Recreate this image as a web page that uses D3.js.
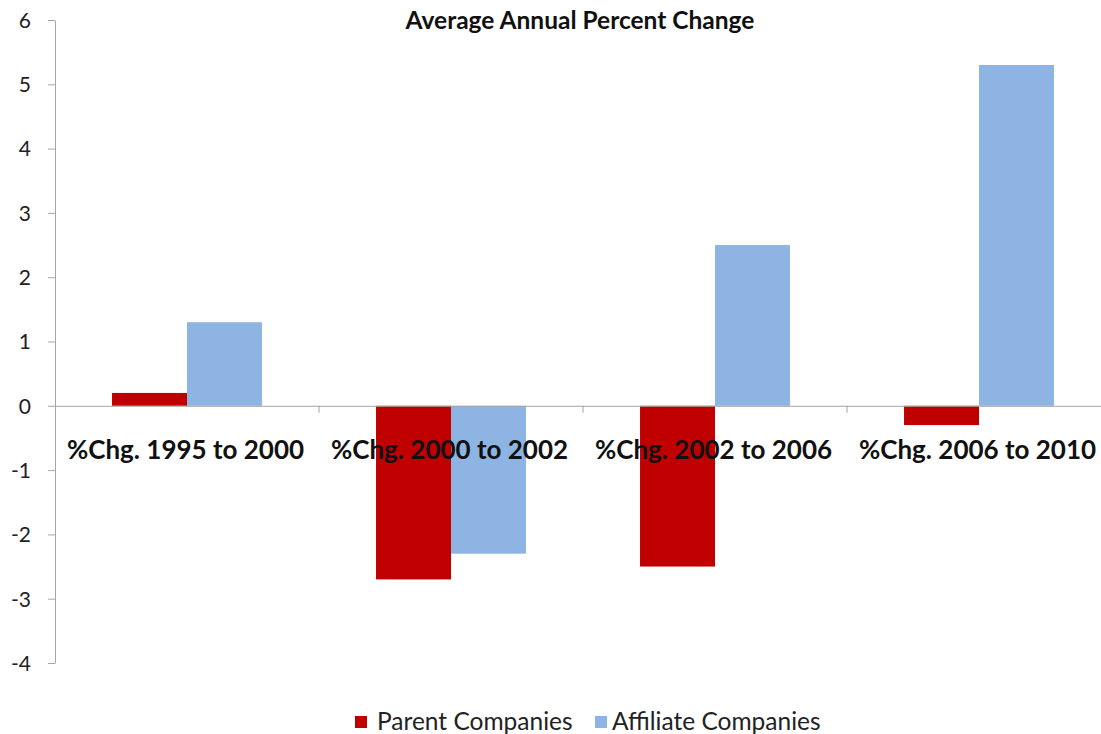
<!DOCTYPE html>
<html><head><meta charset="utf-8">
<script src="https://cdn.jsdelivr.net/npm/d3@7"></script>
<style>body{margin:0;background:#fff}svg{display:block}text{font-family:Lato,"Open Sans",sans-serif}</style>
</head><body><svg id="c" width="1101" height="734"></svg>
<script>
const categories = ["%Chg. 1995 to 2000","%Chg. 2000 to 2002","%Chg. 2002 to 2006","%Chg. 2006 to 2010"];
const seriesNames = ["Parent Companies","Affiliate Companies"];
const parentValues = [0.2,-2.7,-2.5,-0.3];
const affiliateValues = [1.3,-2.3,2.5,5.3];
const yTicks = [-4,-3,-2,-1,0,1,2,3,4,5,6];
const colors = ["#C00000","#8EB4E3"];
const title = "Average Annual Percent Change";

(function(){
const svg = d3.select("#c");
const mLeft = 55, mRight = 1111, mTop = 20, mBottom = 663;
const x0 = d3.scaleBand().domain(categories).range([mLeft,mRight]).padding(0);
const bw = x0.bandwidth();
const x1 = d3.scaleBand().domain(seriesNames).range([bw*0.216, bw*0.784]).padding(0);
const y = d3.scaleLinear().domain([-4,6]).range([mBottom,mTop]);
const series = [parentValues, affiliateValues];

const yAxis = d3.axisLeft(y).tickValues(yTicks).tickSize(7).tickSizeOuter(0).tickFormat(d => String(d));
const ga = svg.append("g").attr("transform",`translate(${mLeft},0)`).call(yAxis);
ga.select(".domain").attr("stroke","#a6a6a6");
ga.selectAll(".tick line").attr("stroke","#a6a6a6");
ga.selectAll(".tick text").attr("x",-24).attr("dy","0.35em").style("font-size","21px").attr("fill","#222").style("font-family","Lato,sans-serif");

categories.forEach((c,i)=>{
  series.forEach((vals,s)=>{
    const v = vals[i];
    svg.append("rect")
      .attr("x", x0(c)+x1(seriesNames[s]))
      .attr("width", x1.bandwidth())
      .attr("y", y(Math.max(0,v)))
      .attr("height", Math.abs(y(v)-y(0)))
      .attr("fill", colors[s]);
  });
});

const xAxis = d3.axisBottom(x0).tickSize(0).tickFormat("");
const gx = svg.append("g").attr("transform",`translate(0,${y(0)})`).call(xAxis);
gx.select(".domain").attr("stroke","#a6a6a6");
categories.slice(1).forEach(c=>{
  svg.append("line").attr("x1",x0(c)).attr("x2",x0(c)).attr("y1",y(0)).attr("y2",y(0)+7).attr("stroke","#a6a6a6");
});
categories.forEach(c=>{
  svg.append("text").attr("x",x0(c)+bw/2 - 1.5).attr("y",y(0)+53).attr("text-anchor","middle")
    .style("font-size","26px").style("font-weight","bold").attr("fill","#111").text(c);
});

svg.append("text").attr("x",580).attr("y",29).attr("text-anchor","middle")
  .style("font-size","24.5px").style("font-weight","bold").attr("fill","#111").text(title);

const lg = svg.append("g");
const lsq = [355,595];
const ltx = [377,612];
seriesNames.forEach((n,s)=>{
  lg.append("rect").attr("x",lsq[s]).attr("y",716).attr("width",12).attr("height",12).attr("fill",colors[s]);
  lg.append("text").attr("x",ltx[s]).attr("y",730).style("font-size","24.5px").attr("fill","#222").text(n);
});
})();
</script></body></html>
